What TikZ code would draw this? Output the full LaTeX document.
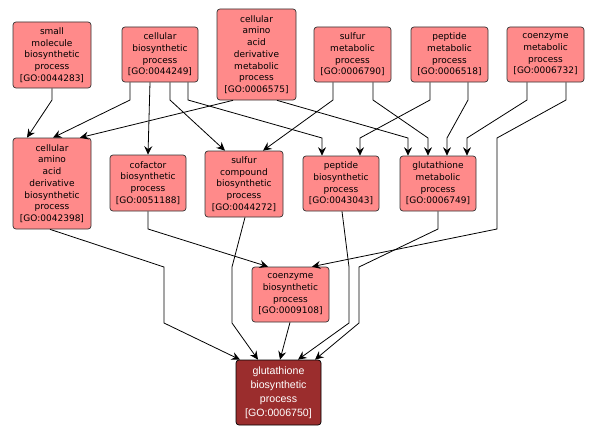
\documentclass[tikz,border=0pt]{standalone}
\usepackage{fontspec}
\setmainfont{DejaVu Sans}
\newfontfamily\darkfont{Liberation Sans}
\usetikzlibrary{arrows.meta,calc}
\definecolor{termfill}{HTML}{FF8A8A}
\definecolor{termdark}{HTML}{9B2D2D}
\begin{document}
\begin{tikzpicture}[x=1pt,y=-1pt,
  term/.style={draw=black!80, fill=termfill, rounded corners=3pt, line width=0.7pt,
    align=center, inner sep=0pt, font=\fontsize{9}{11.7}\selectfont},
  focus/.style={draw=black, fill=termdark, text=white, rounded corners=3pt, line width=0.7pt,
    align=center, inner sep=0pt, font=\darkfont\fontsize{10.6}{14}\selectfont},
  link/.style={draw=black, line width=0.8pt, -{Stealth[length=8.5pt,width=8pt,inset=3pt]}}]
\useasboundingbox (0,0) rectangle (599,436);
\fill[white] (0,0) rectangle (599,436);
% top row
\node[term, minimum width=78, minimum height=66] (n44283) at (52,55) {small\\molecule\\biosynthetic\\process\\{[GO:0044283]}};
\node[term, minimum width=76, minimum height=55] (n44249) at (160,54.5) {cellular\\biosynthetic\\process\\{[GO:0044249]}};
\node[term, minimum width=79, minimum height=91] (n6575) at (256.5,54.5) {cellular\\amino\\acid\\derivative\\metabolic\\process\\{[GO:0006575]}};
\node[term, minimum width=77, minimum height=55] (n6790) at (352.5,54.5) {sulfur\\metabolic\\process\\{[GO:0006790]}};
\node[term, minimum width=77, minimum height=55] (n6518) at (449.5,54.5) {peptide\\metabolic\\process\\{[GO:0006518]}};
\node[term, minimum width=77, minimum height=55] (n6732) at (545.5,54.5) {coenzyme\\metabolic\\process\\{[GO:0006732]}};
% middle row
\node[term, minimum width=78, minimum height=91] (n42398) at (52,183.5) {cellular\\amino\\acid\\derivative\\biosynthetic\\process\\{[GO:0042398]}};
\node[term, minimum width=76, minimum height=56] (n51188) at (148,183) {cofactor\\biosynthetic\\process\\{[GO:0051188]}};
\node[term, minimum width=78, minimum height=66] (n44272) at (244,184) {sulfur\\compound\\biosynthetic\\process\\{[GO:0044272]}};
\node[term, minimum width=76, minimum height=55] (n43043) at (341,183.5) {peptide\\biosynthetic\\process\\{[GO:0043043]}};
\node[term, minimum width=76, minimum height=55] (n6749) at (438,183.5) {glutathione\\metabolic\\process\\{[GO:0006749]}};
% lower rows
\node[term, minimum width=77, minimum height=55] (n9108) at (290.5,294.5) {coenzyme\\biosynthetic\\process\\{[GO:0009108]}};
\node[focus, minimum width=85, minimum height=65] (n6750) at (278.5,392.5) {glutathione\\biosynthetic\\process\\{[GO:0006750]}};
% connectors from top row
\draw[link] (n44283.south) -- (52,100) -- ($(n42398.north)+(-25,0)$);
\draw[link] ($(n44249.south)+(-30,0)$) -- (130,100) -- ($(n42398.north)+(1,0)$);
\draw[link] ($(n6575.south)+(-23.5,0)$) -- ($(n42398.north)+(28,0)$);
\draw[link] ($(n44249.south)+(-10,0)$) -- (n51188.north);
\draw[link] ($(n44249.south)+(10,0)$) -- (170,100) -- ($(n44272.north)+(-19,0)$);
\draw[link] ($(n44249.south)+(28,0)$) -- (188,100) -- (322,138) -- ($(n43043.north)+(-19,0)$);
\draw[link] ($(n6575.south)+(20.5,0)$) -- (408,138) -- ($(n6749.north)+(-30,0)$);
\draw[link] ($(n6790.south)+(-19.5,0)$) -- (333,100) -- ($(n44272.north)+(19,0)$);
\draw[link] ($(n6790.south)+(20.5,0)$) -- (373,100) -- (428,138) -- ($(n6749.north)+(-10,0)$);
\draw[link] ($(n6518.south)+(-19.5,0)$) -- (430,100) -- (360,138) -- ($(n43043.north)+(19,0)$);
\draw[link] ($(n6518.south)+(18.5,0)$) -- (468,100) -- (447,138) -- ($(n6749.north)+(9,0)$);
\draw[link] ($(n6732.south)+(-18.5,0)$) -- (527,100) -- (467,138) -- ($(n6749.north)+(29,0)$);
\draw[link] ($(n6732.south)+(20.5,0)$) -- (566,100) -- (497,138) -- (497,229) -- ($(n9108.north)+(21.5,0)$);
% connectors from middle row
\draw[link] ($(n42398.south)+(-2,0)$) -- (164,267) -- (164,323) -- ($(n6750.north)+(-38.5,0)$);
\draw[link] (n51188.south) -- (148,229) -- ($(n9108.north)+(-22.5,0)$);
\draw[link] ($(n44272.south)+(1,0)$) -- (232,267) -- (232,323) -- ($(n6750.north)+(-20.5,0)$);
\draw[link] ($(n9108.south)+(-0.5,0)$) -- ($(n6750.north)+(1.5,0)$);
\draw[link] ($(n43043.south)+(1,0)$) -- (349,267) -- (349,323) -- ($(n6750.north)+(19.5,0)$);
\draw[link] (n6749.south) -- (438,229) -- (359,267) -- (359,323) -- ($(n6750.north)+(36.5,0)$);
\end{tikzpicture}
\end{document}
